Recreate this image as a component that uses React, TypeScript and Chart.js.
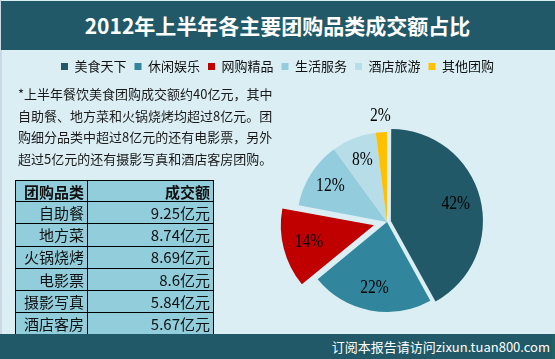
import React, { useEffect, useRef } from 'react';
import { Chart, registerables } from 'chart.js';

Chart.register(...registerables);

// ---------- data ----------
const TITLE = '2012年上半年各主要团购品类成交额占比';
const categories = ['美食天下', '休闲娱乐', '网购精品', '生活服务', '酒店旅游', '其他团购'];
const shares = [42, 22, 14, 12, 8, 2];
const sliceColors = ['#215968', '#31859C', '#C00000', '#93CDDD', '#B7DEE8', '#FFC000'];
const sliceOffsets = [16, 0, 54, 0, 0, 0];

const noteLines = [
  '*上半年餐饮美食团购成交额约40亿元，其中',
  '自助餐、地方菜和火锅烧烤均超过8亿元。团',
  '购细分品类中超过8亿元的还有电影票，另外',
  '超过5亿元的还有摄影写真和酒店客房团购。',
];
const tableHeader = ['团购品类', '成交额'];
const tableItems = ['自助餐', '地方菜', '火锅烧烤', '电影票', '摄影写真', '酒店客房'];
const tableValues = [9.25, 8.74, 8.69, 8.6, 5.84, 5.67];
const tableUnit = '亿元';
const FOOTER = '订阅本报告请访问zixun.tuan800.com';

// ---------- styling ----------
const DARK = '#215968';
const BG = '#DAEEF3';
const CJK = '"Noto Sans CJK SC", "Noto Sans", sans-serif';
const CANVAS_TOP = 52;

const piePlacement = {
  id: 'piePlacement',
  afterLayout(chart: any, _args: any, opts: any) {
    const a = chart.chartArea;
    const dx = opts.cx - (a.left + a.right) / 2;
    const dy = opts.cy - (a.top + a.bottom) / 2;
    a.left += dx;
    a.right += dx;
    a.top += dy;
    a.bottom += dy;
  },
};

const pctLabels = {
  id: 'pctLabels',
  afterDatasetsDraw(chart: any) {
    const meta = chart.getDatasetMeta(0);
    const values = chart.data.datasets[0].data as number[];
    const ctx = chart.ctx as CanvasRenderingContext2D;
    ctx.save();
    ctx.font = '19px "Liberation Serif", "DejaVu Serif", serif';
    ctx.fillStyle = '#000';
    ctx.textAlign = 'center';
    ctx.textBaseline = 'middle';
    meta.data.forEach((arc: any, i: number) => {
      const p = arc.getProps(['x', 'y', 'startAngle', 'endAngle', 'outerRadius'], true);
      const mid = (p.startAngle + p.endAngle) / 2;
      const shift = (arc.options.offset || 0) / 4;
      const v = values[i];
      const r = v < 5 ? p.outerRadius + 16 : p.outerRadius * 0.745 + shift;
      const x = p.x + Math.cos(mid) * r;
      const y = p.y + Math.sin(mid) * r;
      ctx.save();
      ctx.translate(x, y);
      ctx.scale(0.82, 1);
      ctx.fillText(v + '%', 0, 0);
      ctx.restore();
    });
    ctx.restore();
  },
};

function PieChart() {
  const ref = useRef<HTMLCanvasElement | null>(null);
  useEffect(() => {
    if (!ref.current) return;
    const chart = new Chart(ref.current, {
      type: 'pie',
      data: {
        labels: categories,
        datasets: [
          {
            data: shares,
            backgroundColor: sliceColors,
            borderWidth: 0,
            offset: sliceOffsets,
            clip: false,
          } as any,
        ],
      },
      options: {
        responsive: false,
        animation: false,
        radius: 90,
        layout: { padding: 0 },
        plugins: {
          legend: {
            display: true,
            position: 'top',
            align: 'center',
            labels: {
              boxWidth: 7,
              boxHeight: 7,
              padding: 8,
              color: '#111',
              font: { family: CJK, size: 13 },
            },
          },
          tooltip: { enabled: false },
          piePlacement: { cx: 387, cy: 222 - CANVAS_TOP },
        } as any,
      } as any,
      plugins: [piePlacement, pctLabels],
    });
    return () => chart.destroy();
  }, []);
  return (
    <canvas
      ref={ref}
      width={555}
      height={282}
      style={{ position: 'absolute', left: 0, top: CANVAS_TOP, width: 555, height: 282 }}
    />
  );
}

export default function App() {
  return (
    <div
      style={{
        position: 'fixed',
        left: 0,
        top: 0,
        width: 555,
        height: 359,
        background: BG,
        overflow: 'hidden',
        fontFamily: CJK,
      }}
    >
      <div style={{ position: 'absolute', left: 0, top: 0, width: 2, height: 359, background: '#CBD8E6' }} />
      <div
        style={{
          position: 'absolute',
          left: 1,
          top: 1,
          width: 554,
          height: 49,
          background: DARK,
        }}
      />
      <div
        style={{
          position: 'absolute',
          left: 0,
          top: 1,
          width: 555,
          height: 49,
          lineHeight: '48px',
          textAlign: 'center',
          color: '#fff',
          fontWeight: 'bold',
          fontSize: 21,
          whiteSpace: 'nowrap',
        }}
      >
        {TITLE}
      </div>

      <PieChart />

      <div style={{ position: 'absolute', left: 18, top: 83, width: 254, color: '#1a1a1a', fontSize: 13 }}>
        {noteLines.map((l, i) => (
          <div
            key={i}
            style={{
              height: 21.7,
              lineHeight: '21.7px',
              textAlign: 'justify',
              textAlignLast: 'justify' as any,
              whiteSpace: 'nowrap',
            }}
          >
            {l}
          </div>
        ))}
      </div>

      <table
        style={{
          position: 'absolute',
          left: 15,
          top: 180,
          width: 198,
          borderCollapse: 'collapse',
          fontSize: 15,
          color: '#111',
          tableLayout: 'fixed',
        }}
      >
        <colgroup>
          <col style={{ width: 72 }} />
          <col style={{ width: 126 }} />
        </colgroup>
        <tbody>
          <tr style={{ height: 21 }}>
            {tableHeader.map((h, i) => (
              <td
                key={i}
                style={{
                  border: '1px solid #000',
                  background: '#92CDDC',
                  fontWeight: 'bold',
                  textAlign: 'right',
                  padding: '0 3px 0 0',
                  lineHeight: '19px',
                  whiteSpace: 'nowrap',
                }}
              >
                {h}
              </td>
            ))}
          </tr>
          {tableItems.map((name, i) => (
            <tr key={i} style={{ height: 22.3 }}>
              <td
                style={{
                  border: '1px solid #000',
                  background: '#92CDDC',
                  textAlign: 'right',
                  padding: '0 3px 0 0',
                  lineHeight: '20px',
                  whiteSpace: 'nowrap',
                }}
              >
                {name}
              </td>
              <td
                style={{
                  border: '1px solid #000',
                  background: '#92CDDC',
                  textAlign: 'right',
                  padding: '0 3px 0 0',
                  lineHeight: '20px',
                  whiteSpace: 'nowrap',
                }}
              >
                {tableValues[i] + tableUnit}
              </td>
            </tr>
          ))}
        </tbody>
      </table>

      <div
        style={{
          position: 'absolute',
          left: 0,
          top: 334,
          width: 552,
          height: 25,
          background: DARK,
          color: '#fff',
          fontSize: 13,
          lineHeight: '25px',
          textAlign: 'right',
          whiteSpace: 'nowrap',
        }}
      >
        <span style={{ paddingRight: 2 }}>{FOOTER}</span>
      </div>
      <div style={{ position: 'absolute', left: 552, top: 334, width: 3, height: 25, background: '#1E6266' }} />
    </div>
  );
}
